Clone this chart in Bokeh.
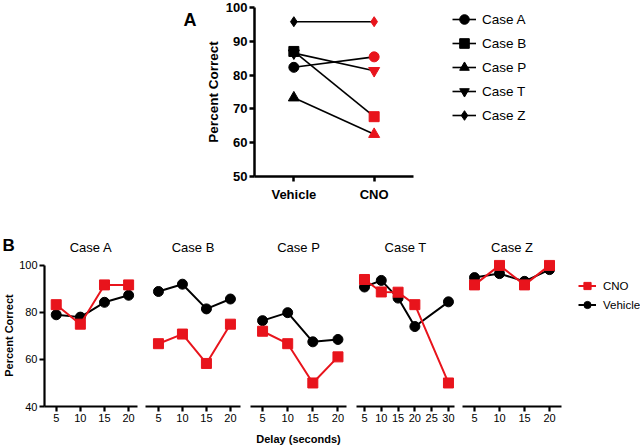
import math
from bokeh.plotting import figure
from bokeh.layouts import column, row
from bokeh.models import Range1d, FixedTicker, Legend, LegendItem, Label
from bokeh.embed import file_html
from bokeh.resources import INLINE

RED = "#e8141c"
FONT = "Liberation Sans"
NAN = float("nan")

# ---------------- Panel A data ----------------
conditions = ["Vehicle", "CNO"]
cases_a = ["Case A", "Case B", "Case P", "Case T", "Case Z"]
vehicle_a = [82.3, 87.0, 73.3, 86.5, 95.8]
cno_a = [85.4, 67.7, 62.5, 81.3, 95.8]
markers_a = ["circle", "square", "triangle", "inverted_triangle", "diamond"]
sizes_a = [10, 10, 11, 11, 10]
yticks_a = [50, 60, 70, 80, 90, 100]

# ---------------- Panel B data ----------------
delays = [5, 10, 15, 20]
delays_t = [5, 10, 15, 20, 30]
xticks_t = [5, 10, 15, 20, 25, 30]
yticks_b = [40, 60, 80, 100]
legend_b = ["CNO", "Vehicle"]

veh_A = [79.0, 78.0, 84.3, 87.3]
cno_A = [83.3, 75.0, 91.7, 91.7]
veh_B = [88.9, 92.0, 81.5, 85.7]
cno_B = [66.7, 70.8, 58.3, 75.0]
veh_P = [76.5, 79.9, 67.5, 68.5]
cno_P = [72.0, 66.7, 50.0, 61.1]
veh_T = [90.8, 93.6, 86.1, 74.0, 84.5]
cno_T = [94.0, 88.7, 88.6, 83.3, 50.0]
veh_Z = [94.8, 96.5, 93.2, 98.2]
cno_Z = [91.7, 100.0, 91.7, 100.0]


def style_axis(ax, size, bold, lw):
    ax.axis_line_width = lw
    ax.axis_line_color = "black"
    ax.major_tick_line_width = lw
    ax.major_tick_line_color = "black"
    ax.major_tick_in = 0
    ax.major_tick_out = 5
    ax.minor_tick_line_color = None
    ax.major_label_text_font = FONT
    ax.major_label_text_font_size = size
    ax.major_label_text_font_style = "bold" if bold else "normal"
    ax.major_label_text_color = "black"
    ax.axis_label_text_font = FONT
    ax.axis_label_text_font_style = "bold"
    ax.axis_label_text_color = "black"


def blank(w, h, title=None):
    f = figure(width=w, height=h, x_range=Range1d(0, 1), y_range=Range1d(0, 1),
               x_axis_type=None, y_axis_type=None, output_backend="svg",
               toolbar_location=None, min_border=0, title=title)
    f.grid.visible = False
    f.outline_line_color = None
    return f


TOP_H = 215
BOT_H = 232
# frames in a row are aligned: top row frame spans y 7..176, bottom row frame 44..191 (figure px)
TOP_FB = 176
BOT_FB = 191

# ---------------- Top row (panel A) ----------------
fTL = blank(202, TOP_H)
fTL.add_layout(Label(x=183, y=TOP_FB - 19, x_units="screen", y_units="screen", text="A",
                     text_font=FONT, text_font_style="bold", text_font_size="18px",
                     text_color="black", text_baseline="alphabetic"))

pa = figure(width=215, height=TOP_H, x_range=Range1d(-0.49, 1.49), y_range=Range1d(50, 100),
            output_backend="svg", toolbar_location=None,
            min_border_left=50, min_border_right=4, min_border_top=7, min_border_bottom=39)
pa.grid.visible = False
pa.outline_line_color = None

for i in range(len(cases_a)):
    pa.line(x=[0, 1], y=[vehicle_a[i], cno_a[i]], line_color="black", line_width=1.6)
    pa.scatter(x=[0], y=[vehicle_a[i]], marker=markers_a[i], size=sizes_a[i],
               fill_color="black", line_color="black")
    pa.scatter(x=[1], y=[cno_a[i]], marker=markers_a[i], size=sizes_a[i],
               fill_color=RED, line_color=RED)

style_axis(pa.xaxis[0], "13px", True, 2.5)
style_axis(pa.yaxis[0], "13px", True, 2.5)
pa.xaxis.ticker = FixedTicker(ticks=[0, 1])
pa.xaxis.major_label_overrides = {0: conditions[0], 1: conditions[1]}
pa.xaxis.major_label_standoff = 5
pa.yaxis.ticker = FixedTicker(ticks=yticks_a)
pa.yaxis.axis_label = "Percent Correct"
pa.yaxis.axis_label_text_font_size = "13.5px"
pa.yaxis.major_label_standoff = 2
pa.yaxis.axis_label_standoff = 2

fTR = blank(223, TOP_H)
items = []
for i in range(len(cases_a)):
    ln = fTR.line(x=[NAN, NAN], y=[NAN, NAN], line_color="black", line_width=1.6)
    mk = fTR.scatter(x=[NAN], y=[NAN], marker=markers_a[i], fill_color="black", line_color="black")
    items.append(LegendItem(label=cases_a[i], renderers=[ln, mk]))
leg_a = Legend(items=items, location=(35, TOP_FB - 7 - 120), orientation="vertical",
               glyph_width=24, glyph_height=24, label_height=24, spacing=0,
               padding=0, margin=0, border_line_color=None, background_fill_alpha=0,
               label_text_font=FONT, label_text_font_size="13.5px", label_standoff=6,
               label_text_color="black")
fTR.add_layout(leg_a, "center")

# ---------------- Bottom row (panel B) ----------------
yr = Range1d(40, 102.5)


def make_panel(title, xs, veh, cno, xr, xticks, width, left, right, show_y=False, xlabel=None):
    p = figure(width=width, height=BOT_H, x_range=xr, y_range=yr,
               output_backend="svg", toolbar_location=None,
               min_border_left=left, min_border_right=right, min_border_top=44, min_border_bottom=41,
               title=title)
    p.grid.visible = False
    p.outline_line_color = None
    p.title.text_font = FONT
    p.title.text_font_size = "13px"
    p.title.text_font_style = "normal"
    p.title.align = "center"
    p.title.text_color = "black"
    style_axis(p.xaxis[0], "11px", False, 2.2)
    style_axis(p.yaxis[0], "11px", False, 2.2)
    p.xaxis.ticker = FixedTicker(ticks=xticks)
    p.xaxis.major_label_standoff = 2
    p.yaxis.ticker = FixedTicker(ticks=yticks_b)
    p.yaxis.bounds = (40, 100)
    p.yaxis.major_label_standoff = 2
    if not show_y:
        p.yaxis.visible = False
    if xlabel:
        p.xaxis.axis_label = xlabel
        p.xaxis.axis_label_text_font_size = "11px"
        p.xaxis.axis_label_standoff = 8
    p.line(x=xs, y=veh, line_color="black", line_width=2)
    p.scatter(x=xs, y=veh, marker="circle", size=10, fill_color="black", line_color="black")
    p.line(x=xs, y=cno, line_color=RED, line_width=2)
    p.scatter(x=xs, y=cno, marker="square", size=10, fill_color=RED, line_color=RED)
    return p


fBL = blank(16, BOT_H, title="B")
fBL.title.text_font = FONT
fBL.title.text_font_size = "17px"
fBL.title.text_font_style = "bold"
fBL.title.align = "left"
fBL.title.offset = 2
fBL.title.text_color = "black"
fBL.add_layout(Label(x=8, y=BOT_FB - 120, x_units="screen", y_units="screen",
                     text="Percent Correct", angle=math.pi / 2,
                     text_font=FONT, text_font_style="bold", text_font_size="11px",
                     text_color="black", text_align="center", text_baseline="middle"))

pA = make_panel("Case A", delays, veh_A, cno_A, Range1d(2.57, 21.84), delays, 125, 26, 4, show_y=True)
pB = make_panel("Case B", delays, veh_B, cno_B, Range1d(2.3, 22.1), delays, 104, 4, 5)
pP = make_panel("Case P", delays, veh_P, cno_P, Range1d(2.6, 21.7), delays, 106, 5, 5,
                xlabel="Delay (seconds)")
pT = make_panel("Case T", delays_t, veh_T, cno_T, Range1d(2.62, 31.8), xticks_t, 107, 5, 4)
pZ = make_panel("Case Z", delays, veh_Z, cno_Z, Range1d(2.6, 22.4), delays, 107, 4, 4)

fBR = blank(75, BOT_H)
lc = fBR.line(x=[NAN, NAN], y=[NAN, NAN], line_color=RED, line_width=2)
sc = fBR.scatter(x=[NAN], y=[NAN], marker="square", fill_color=RED, line_color=RED)
lv = fBR.line(x=[NAN, NAN], y=[NAN, NAN], line_color="black", line_width=2)
sv = fBR.scatter(x=[NAN], y=[NAN], marker="circle", fill_color="black", line_color="black")
leg_b = Legend(items=[LegendItem(label=legend_b[0], renderers=[lc, sc]),
                      LegendItem(label=legend_b[1], renderers=[lv, sv])],
               location=(13, BOT_FB - 61 - 38), orientation="vertical",
               glyph_width=18, glyph_height=19, label_height=19, spacing=0,
               padding=0, margin=0, border_line_color=None, background_fill_alpha=0,
               label_text_font=FONT, label_text_font_size="11.5px", label_standoff=7,
               label_text_color="black")
fBR.add_layout(leg_b, "center")

layout = column(row(fTL, pa, fTR), row(fBL, pA, pB, pP, pT, pZ, fBR))
open("out.html", "w").write(file_html(layout, INLINE))
